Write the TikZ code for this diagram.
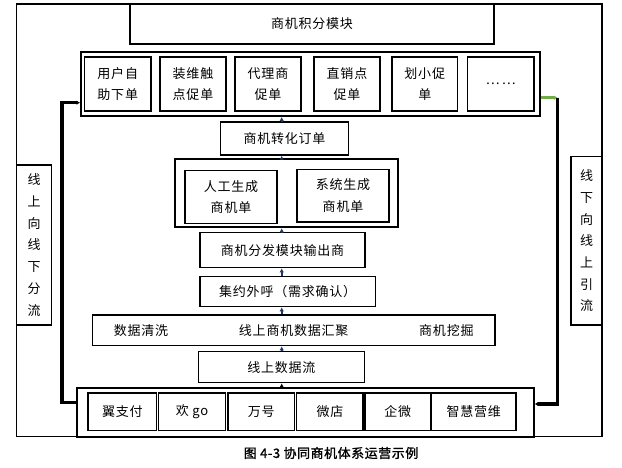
\documentclass[tikz,border=0pt]{standalone}
\usepackage{fontspec}
\newfontfamily\cjk[LetterSpace=6]{Noto Sans CJK SC}
\newfontfamily\cjkcap[LetterSpace=4,FakeBold=1.2]{Noto Sans CJK SC}
\usetikzlibrary{arrows.meta}
\definecolor{navy}{HTML}{1F3864}
\definecolor{grn}{HTML}{70AD47}
\newcommand\txt{\cjk\fontsize{13}{21.7}\selectfont}
\newcommand\mkbox[7]{\node[#7, minimum width={(#4-#2)*1pt}, minimum height={(#5-#3)*1pt}] (#1) at ({(#2+#4)/2},{(#3+#5)/2}) {#6};}
\begin{document}
\begin{tikzpicture}[x=1pt,y=-1pt,
  box/.style={draw, line width=1.3pt, inner sep=0pt, align=center, font=\txt},
  cont/.style={draw, line width=2pt, inner sep=0pt},
  lbl/.style={inner sep=0pt, font=\txt},
  arr/.style={draw=navy, line width=1.6pt, -{Latex[length=4pt,width=4.5pt]}},
  loopl/.style={line width=3.2pt, black},
]
\fill[white] (0,0) rectangle (622,468);
\useasboundingbox (0,0) rectangle (622,468);
% outer frame
\mkbox{frame}{16.7}{4}{602}{436.7}{}{draw, line width=1.1pt, inner sep=0pt}
% top
\mkbox{top}{130}{4}{494}{44}{商机积分模块}{box, line width=2pt}
% channel container
\mkbox{chan}{81}{52}{540}{116}{}{cont}
\mkbox{c1}{84.5}{57}{151}{111}{用户自\\助下单}{box}
\mkbox{c2}{160}{57}{226}{111}{装维触\\点促单}{box}
\mkbox{c3}{235}{57}{301}{111}{代理商\\促单}{box}
\mkbox{c4}{314}{57}{380}{111}{直销点\\促单}{box}
\mkbox{c5}{392}{57}{457.5}{111}{划小促\\单}{box}
\mkbox{c6}{467.5}{57}{534}{111}{…\,…}{box}
% middle chain
\mkbox{trans}{220.6}{122}{348.4}{155}{商机转化订单}{box}
\mkbox{mid}{174.6}{159.3}{398}{227.3}{}{cont}
\mkbox{m1}{185}{170.7}{277}{223.3}{人工生成\\商机单}{box}
\mkbox{m2}{297}{169.3}{389}{222}{系统生成\\商机单}{box}
\mkbox{dist}{200}{232.7}{365}{267.7}{商机分发模块输出商}{box}
\mkbox{call}{200}{276.7}{375.4}{306.7}{集约外呼（需求确认）}{box}
\mkbox{bar}{92.5}{315}{495}{345.7}{}{box}
\node[lbl] (t1) at (141,331) {数据清洗};
\node[lbl] (t2) at (293.7,331) {线上商机数据汇聚};
\node[lbl] (t3) at (446.4,331) {商机挖掘};
\mkbox{flow}{198.4}{351.7}{364.3}{382.7}{线上数据流}{box}
% bottom container
\mkbox{bot}{76.6}{388}{533.7}{436.7}{}{cont}
\mkbox{b1}{88}{393}{156.7}{430.7}{翼支付}{box}
\mkbox{b2}{158.7}{393}{225.4}{430.7}{欢 go}{box}
\mkbox{b3}{228}{393}{294.4}{430.7}{万号}{box}
\mkbox{b4}{296.8}{393}{363}{430.7}{微店}{box}
\mkbox{b5}{365}{393}{430.6}{430.7}{企微}{box}
\mkbox{b6}{431.7}{393}{515.9}{430.7}{智慧营维}{box}
% side boxes
\mkbox{ls}{16.7}{165}{51.6}{325}{线\\上\\向\\线\\下\\分\\流}{box}
\mkbox{rs}{571}{156.7}{602}{325}{线\\下\\向\\线\\上\\引\\流}{box}
% vertical arrows
\coordinate (ax) at (281.7,0);
\draw[arr] (trans.north -| ax) -- (chan.south -| ax);
\draw[arr] (mid.north -| ax) -- (trans.south -| ax);
\draw[arr] (dist.north -| ax) -- (mid.south -| ax);
\draw[arr] (call.north -| ax) -- (dist.south -| ax);
\draw[arr] (bar.north -| ax) -- (call.south -| ax);
\draw[arr] (flow.north -| ax) -- (bar.south -| ax);
\draw[arr, draw=black, line width=2.4pt] (bot.north -| ax) -- (flow.south -| ax);
% loop lines
\coordinate (Lb) at (62,402.7);
\coordinate (Lt) at (62,102.7);
\draw[loopl, -{Latex[length=3.5pt,width=4.5pt]}] (bot.west |- Lb) -- (Lb) -- (Lt) -- (chan.west |- Lt);
\coordinate (Rt) at (557.5,97.7);
\coordinate (Rb) at (557.5,404);
\draw[line width=3.2pt, grn, -{Latex[length=3.5pt,width=4.5pt]}] (chan.east |- Rt) -- (Rt);
\draw[loopl, -{Latex[length=3.5pt,width=4.5pt]}] (Rt) -- (Rb) -- (bot.east |- Rb);
% caption
\node[inner sep=0pt, font=\cjkcap\fontsize{13}{15}\selectfont] (cap) at (331,453) {图 4-3 协同商机体系运营示例};
\end{tikzpicture}
\end{document}
